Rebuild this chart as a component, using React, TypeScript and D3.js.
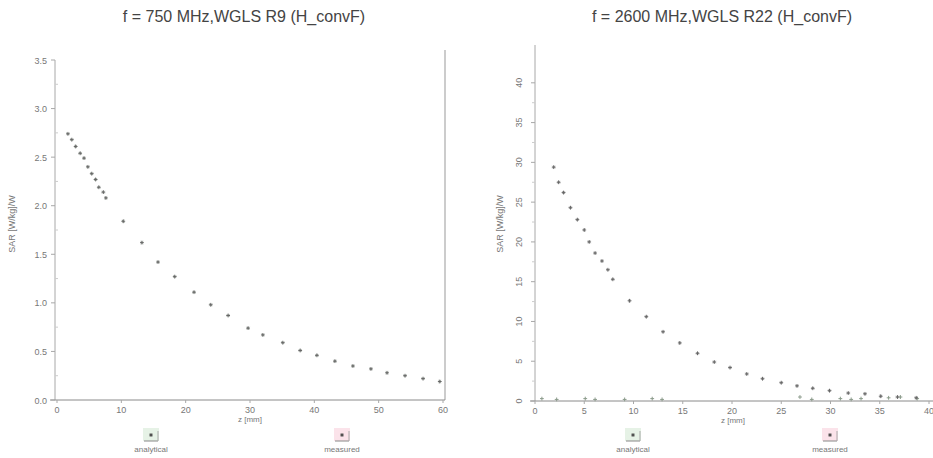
import React, { useEffect, useRef } from "react";
import * as d3 from "d3";

// 750 MHz panel
const leftZ = [1.7, 2.3, 2.9, 3.6, 4.2, 4.8, 5.4, 6.0, 6.5, 7.2, 7.6, 10.3, 13.2, 15.7, 18.3, 21.3, 23.9, 26.6, 29.7, 32.0, 35.1, 37.8, 40.4, 43.2, 46.0, 48.8, 51.3, 54.1, 56.9, 59.5];
const leftMeasured = [2.74, 2.68, 2.61, 2.54, 2.49, 2.4, 2.33, 2.27, 2.19, 2.14, 2.08, 1.84, 1.62, 1.42, 1.27, 1.11, 0.98, 0.87, 0.74, 0.67, 0.59, 0.51, 0.46, 0.4, 0.35, 0.32, 0.28, 0.25, 0.22, 0.19];
const leftAnalytical = [2.74, 2.68, 2.61, 2.54, 2.49, 2.4, 2.33, 2.27, 2.19, 2.14, 2.08, 1.84, 1.62, 1.42, 1.27, 1.11, 0.98, 0.87, 0.74, 0.67, 0.59, 0.51, 0.46, 0.4, 0.35, 0.32, 0.28, 0.25, 0.22, 0.19];
const leftXTicks = [0, 10, 20, 30, 40, 50, 60];
const leftYTicks = ["0.0", "0.5", "1.0", "1.5", "2.0", "2.5", "3.0", "3.5"];

// 2600 MHz panel
const rightZ = [1.9, 2.4, 2.9, 3.6, 4.3, 5.0, 5.5, 6.1, 6.8, 7.4, 7.9, 9.6, 11.3, 13.0, 14.7, 16.5, 18.2, 19.8, 21.5, 23.1, 25.0, 26.6, 28.2, 29.9, 31.8, 33.5, 35.1, 36.8, 38.7];
const rightMeasured = [29.4, 27.5, 26.2, 24.3, 22.8, 21.5, 20.0, 18.6, 17.6, 16.5, 15.3, 12.6, 10.6, 8.7, 7.3, 6.0, 4.9, 4.2, 3.4, 2.8, 2.3, 1.9, 1.6, 1.3, 1.0, 0.9, 0.6, 0.5, 0.4];
const rightAnalyticalZ = [0.7, 2.2, 5.1, 6.1, 9.1, 11.9, 12.9, 26.9, 28.1, 31.0, 32.1, 33.1, 35.9, 37.1, 38.8];
const rightAnalytical = [0.3, 0.2, 0.3, 0.2, 0.2, 0.3, 0.2, 0.5, 0.2, 0.3, 0.2, 0.3, 0.4, 0.5, 0.3];
const rightXTicks = [0, 5, 10, 15, 20, 25, 30, 35, 40];
const rightYTicks = [0, 5, 10, 15, 20, 25, 30, 35, 40];

const titles = ["f = 750 MHz,WGLS R9 (H_convF)", "f = 2600 MHz,WGLS R22 (H_convF)"];
const legendNames = ["analytical", "measured"];

const font = "Liberation Sans, Arial, sans-serif";
const axisColor = "#a8a8a8";
const textColor = "#777";

function App() {
  const ref = useRef(null);

  useEffect(() => {
    drawChart();
  }, []);

  function marker(g, x, y, kind, color) {
    const s = 1.9;
    if (kind === "plus") {
      g.append("path")
        .attr("d", `M${x - s},${y}H${x + s}M${x},${y - s}V${y + s}`)
        .attr("stroke", color)
        .attr("stroke-width", 1);
    } else {
      g.append("path")
        .attr("d", `M${x - 1.3},${y - 1.3}L${x + 1.3},${y + 1.3}M${x - 1.3},${y + 1.3}L${x + 1.3},${y - 1.3}`)
        .attr("stroke", color)
        .attr("stroke-width", 0.7);
    }
  }

  function legend(svg, cx, name, fill) {
    const g = svg.append("g");
    g.append("rect")
      .attr("x", cx - 8)
      .attr("y", 428)
      .attr("width", 16)
      .attr("height", 13)
      .attr("fill", fill);
    g.append("line")
      .attr("x1", cx - 7)
      .attr("x2", cx + 7)
      .attr("y1", 441)
      .attr("y2", 441)
      .attr("stroke", "#888");
    g.append("line")
      .attr("x1", cx + 7)
      .attr("x2", cx + 7)
      .attr("y1", 431)
      .attr("y2", 441)
      .attr("stroke", "#aaa");
    marker(g, cx, 435, "plus", "#444");
    marker(g, cx, 435, "cross", "#444");
    g.append("text")
      .text(name)
      .attr("x", cx)
      .attr("y", 452)
      .attr("text-anchor", "middle")
      .attr("font-family", font)
      .attr("font-size", "8px")
      .attr("fill", textColor);
  }

  function drawChart() {
    d3.select(ref.current).selectAll("*").remove();
    const svg = d3.select(ref.current);

    // ---- left panel ----
    const xL = d3.scaleLinear().domain([0, 60]).range([57, 443]);
    const yL = d3.scaleLinear().domain([0, 3.5]).range([400, 60]);

    svg.append("text")
      .text(titles[0])
      .attr("x", 244)
      .attr("y", 22)
      .attr("text-anchor", "middle")
      .attr("font-family", font)
      .attr("font-size", "16px")
      .attr("fill", "#444");

    svg.append("line").attr("x1", 55).attr("x2", 55).attr("y1", 60).attr("y2", 400).attr("stroke", axisColor);
    svg.append("line").attr("x1", 445).attr("x2", 445).attr("y1", 50).attr("y2", 400).attr("stroke", "#bbb").attr("stroke-width", 1.5);
    svg.append("line").attr("x1", 50).attr("x2", 445).attr("y1", yL(0)).attr("y2", yL(0)).attr("stroke", "#8a8a8a");

    leftYTicks.forEach((t) => {
      const y = yL(+t);
      svg.append("line").attr("x1", 51).attr("x2", 55).attr("y1", y).attr("y2", y).attr("stroke", axisColor);
      svg.append("text")
        .text(t)
        .attr("x", 47)
        .attr("y", y + 3.5)
        .attr("text-anchor", "end")
        .attr("font-family", font)
        .attr("font-size", "9px")
        .attr("fill", textColor);
      if (+t < 3.5) {
        const ym = yL(+t + 0.25);
        svg.append("line").attr("x1", 55).attr("x2", 58).attr("y1", ym).attr("y2", ym).attr("stroke", "#ccc");
      }
    });

    leftXTicks.forEach((t) => {
      const x = xL(t);
      svg.append("line").attr("x1", x).attr("x2", x).attr("y1", 400).attr("y2", 403).attr("stroke", axisColor);
      svg.append("text")
        .text(t)
        .attr("x", x)
        .attr("y", 413)
        .attr("text-anchor", "middle")
        .attr("font-family", font)
        .attr("font-size", "9px")
        .attr("fill", textColor);
    });

    svg.append("text")
      .text("z [mm]")
      .attr("x", 250)
      .attr("y", 422)
      .attr("text-anchor", "middle")
      .attr("font-family", font)
      .attr("font-size", "8px")
      .attr("fill", textColor);

    svg.append("text")
      .text("SAR [W/kg]/W")
      .attr("transform", "translate(15, 224) rotate(-90)")
      .attr("text-anchor", "middle")
      .attr("font-family", font)
      .attr("font-size", "9px")
      .attr("fill", textColor);

    const gl = svg.append("g");
    leftZ.forEach((z, i) => {
      marker(gl, xL(z), yL(leftAnalytical[i]), "cross", "#778877");
      marker(gl, xL(z), yL(leftMeasured[i]), "plus", "#666");
    });

    legend(svg, 151, legendNames[0], "#e6f2e6");
    legend(svg, 342, legendNames[1], "#fbe3ea");

    // ---- right panel ----
    const xR = d3.scaleLinear().domain([0, 40]).range([535, 929]);
    const yR = d3.scaleLinear().domain([0, 44]).range([401, 51]);

    svg.append("text")
      .text(titles[1])
      .attr("x", 722)
      .attr("y", 22)
      .attr("text-anchor", "middle")
      .attr("font-family", font)
      .attr("font-size", "16px")
      .attr("fill", "#444");

    svg.append("line").attr("x1", 535).attr("x2", 535).attr("y1", 45).attr("y2", 401).attr("stroke", axisColor);
    svg.append("line").attr("x1", 530).attr("x2", 933).attr("y1", yR(0)).attr("y2", yR(0)).attr("stroke", "#8a8a8a");

    rightYTicks.forEach((t) => {
      const y = yR(t);
      svg.append("line").attr("x1", 531).attr("x2", 535).attr("y1", y).attr("y2", y).attr("stroke", axisColor);
      svg.append("text")
        .text(t)
        .attr("transform", `translate(522, ${y}) rotate(-90)`)
        .attr("text-anchor", "middle")
        .attr("font-family", font)
        .attr("font-size", "9px")
        .attr("fill", textColor);
      if (t < 40) {
        const ym = yR(t + 2.5);
        svg.append("line").attr("x1", 532).attr("x2", 535).attr("y1", ym).attr("y2", ym).attr("stroke", "#ccc");
      }
    });

    rightXTicks.forEach((t) => {
      const x = xR(t);
      svg.append("line").attr("x1", x).attr("x2", x).attr("y1", 401).attr("y2", 404).attr("stroke", axisColor);
      svg.append("text")
        .text(t)
        .attr("x", x)
        .attr("y", 414)
        .attr("text-anchor", "middle")
        .attr("font-family", font)
        .attr("font-size", "9px")
        .attr("fill", textColor);
    });

    svg.append("text")
      .text("z [mm]")
      .attr("x", 733)
      .attr("y", 423)
      .attr("text-anchor", "middle")
      .attr("font-family", font)
      .attr("font-size", "8px")
      .attr("fill", textColor);

    svg.append("text")
      .text("SAR [W/kg]/W")
      .attr("transform", "translate(503, 224) rotate(-90)")
      .attr("text-anchor", "middle")
      .attr("font-family", font)
      .attr("font-size", "9px")
      .attr("fill", textColor);

    const gr = svg.append("g");
    rightAnalyticalZ.forEach((z, i) => {
      marker(gr, xR(z), yR(rightAnalytical[i]), "plus", "#8a9a8a");
    });
    rightZ.forEach((z, i) => {
      marker(gr, xR(z), yR(rightMeasured[i]), "cross", "#888");
      marker(gr, xR(z), yR(rightMeasured[i]), "plus", "#666");
    });

    legend(svg, 633, legendNames[0], "#e6f2e6");
    legend(svg, 830, legendNames[1], "#fbe3ea");
  }

  return (
    <svg
      ref={ref}
      width={933}
      height={458}
      style={{ position: "absolute", left: 0, top: 0, background: "#fff" }}
    />
  );
}

export default App;
